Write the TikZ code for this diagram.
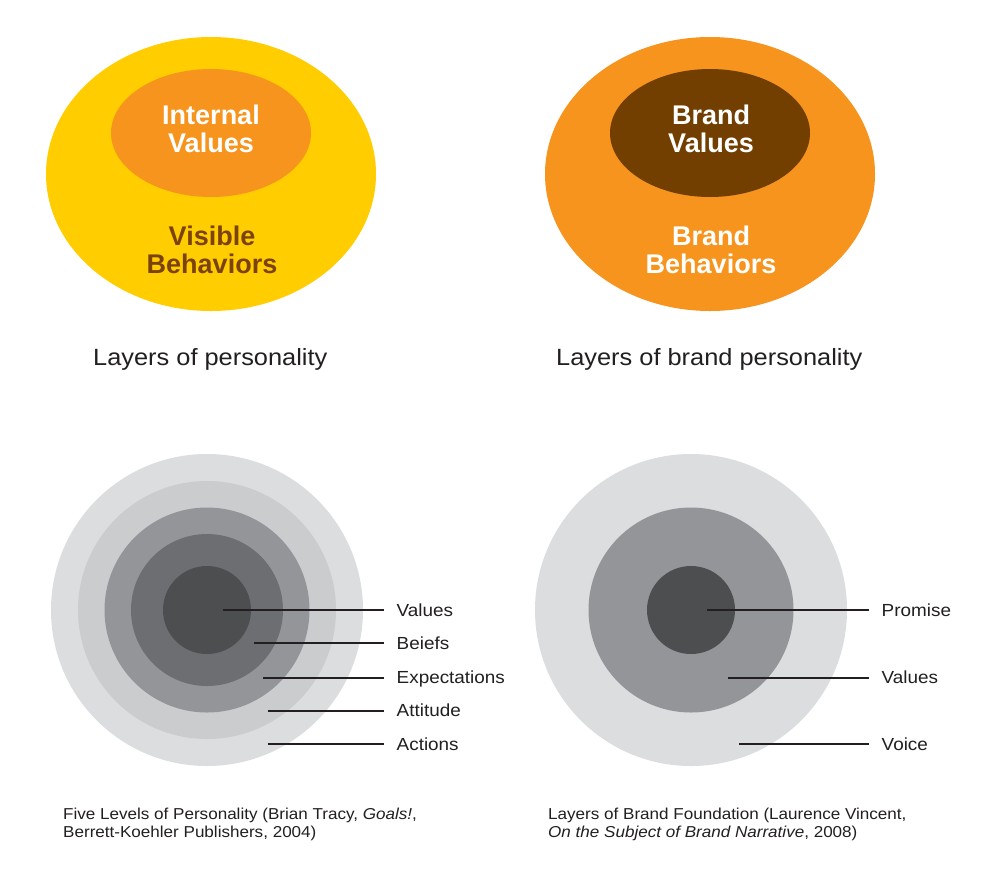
\documentclass[tikz,border=0pt]{standalone}
\usepackage{fontspec}
\setmainfont{Liberation Sans}
\newfontfamily\litefont[FakeStretch=1.08]{Liberation Sans}
\usepackage{xcolor}
\usepackage{tikz}
\usetikzlibrary{shapes.geometric,positioning}

\definecolor{sunYellow}{HTML}{FFCD00}
\definecolor{warmOrange}{HTML}{F7941D}
\definecolor{coreBrown}{HTML}{723F00}
\definecolor{behBrown}{HTML}{7B4209}
\definecolor{inkGray}{HTML}{231F20}
\definecolor{ringA}{HTML}{DCDDDE}
\definecolor{ringB}{HTML}{CBCCCE}
\definecolor{ringC}{HTML}{939598}
\definecolor{ringD}{HTML}{6D6E71}
\definecolor{ringE}{HTML}{4D4E50}

\begin{document}
\begin{tikzpicture}[x=1pt,y=-1pt,
    ell/.style={ellipse,draw=none,inner sep=0pt},
    head/.style={font=\bfseries\fontsize{27}{28}\selectfont,align=center,inner sep=0pt},
    titletext/.style={font=\litefont\fontsize{23.5}{26}\selectfont,text=inkGray,inner sep=0pt,anchor=base west},
    src/.style={font=\litefont\fontsize{15.8}{17.5}\selectfont,text=inkGray,inner sep=0pt,align=left,anchor=north west},
    lvl/.style={font=\litefont\fontsize{17.5}{20}\selectfont,text=inkGray,anchor=west,inner xsep=12.5pt,inner ysep=0pt,text height=12.5pt,text depth=0pt},
    lead/.style={draw=inkGray,line width=2pt}]
  \fill[white] (0,0) rectangle (1000,884);
  \useasboundingbox (0,0) rectangle (1000,884);

  % Top left: layers of personality
  \node[ell,fill=sunYellow,minimum width=330pt,minimum height=274pt] (outerL) at (211,174) {};
  \node[ell,fill=warmOrange,minimum width=200pt,minimum height=128pt] (innerL) at (211,133) {};
  \node[head,text=white] (valL) at (211,129) {Internal\\Values};
  \node[head,text=behBrown] (behL) at (212,250) {Visible\\Behaviors};
  \node[titletext] (capL) at (93,365) {Layers of personality};

  % Top right: layers of brand personality
  \node[ell,fill=warmOrange,minimum width=330pt,minimum height=274pt] (outerR) at (710,174) {};
  \node[ell,fill=coreBrown,minimum width=200pt,minimum height=128pt] (innerR) at (710,133) {};
  \node[head,text=white] (valR) at (711,129) {Brand\\Values};
  \node[head,text=white] (behR) at (711,250) {Brand\\Behaviors};
  \node[titletext] (capR) at (556,365) {Layers of brand personality};

  % Bottom left: five levels
  \foreach \r/\c in {156/ringA,129/ringB,102.5/ringC,76/ringD,44/ringE}
    \fill[\c] (207,610) circle[radius=\r];
  \foreach \n/\y/\x/\t in {a/610/222.7/Values,b/643.3/254/Beiefs,c/677.7/263/Expectations,
                           d/710.7/267.7/Attitude,e/744.3/267.7/Actions} {
    \coordinate (dotL\n) at (\x,\y);
    \node[lvl] (lvlL\n) at (384,\y) {\t};
    \draw[lead] (dotL\n) -- (lvlL\n);
  }
  \node[src] (srcL) at (63,808) {Five Levels of Personality (Brian Tracy, \textit{Goals!},\\Berrett-Koehler Publishers, 2004)};

  % Bottom right: brand foundation
  \foreach \r/\c in {156/ringA,102.5/ringC,44/ringE}
    \fill[\c] (691,610) circle[radius=\r];
  \foreach \n/\y/\x/\t in {a/610/707/Promise,b/677.7/728.3/Values,c/744.3/739/Voice} {
    \coordinate (dotR\n) at (\x,\y);
    \node[lvl] (lvlR\n) at (869,\y) {\t};
    \draw[lead] (dotR\n) -- (lvlR\n);
  }
  \node[src] (srcR) at (548,808) {Layers of Brand Foundation (Laurence Vincent,\\\textit{On the Subject of Brand Narrative}, 2008)};
\end{tikzpicture}
\end{document}
